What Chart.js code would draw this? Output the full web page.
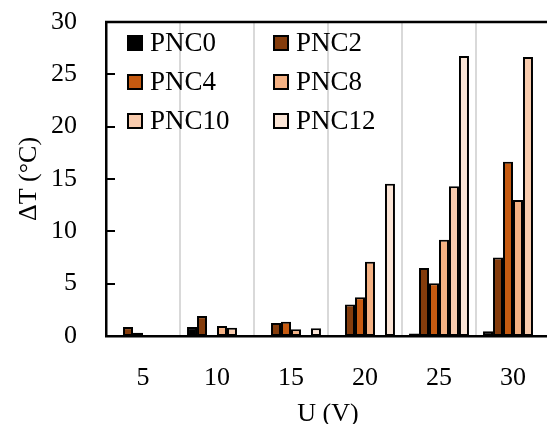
<!DOCTYPE html>
<html>
<head>
<meta charset="utf-8">
<script src="https://cdn.jsdelivr.net/npm/chart.js@4.4.0/dist/chart.umd.min.js"></script>
<style>
  html, body { margin: 0; padding: 0; background: #fff; overflow: hidden; }
  #wrap { width: 547px; height: 424px; overflow: hidden; position: relative; }
  canvas { display: block; }
</style>
</head>
<body>
<div id="wrap"><canvas id="c" width="550" height="424"></canvas></div>
<script>
const categories = ['5', '10', '15', '20', '25', '30'];
const seriesNames = ['PNC0', 'PNC2', 'PNC4', 'PNC8', 'PNC10', 'PNC12'];
// null = no bar drawn (value 0 / not measured)
const PNC0  = [0.05, 0.85, null, null,  0.25,  0.45];
const PNC2  = [0.85, 1.9,  1.25, 3.0,   6.5,   7.5];
const PNC4  = [0.3,  null, 1.35, 3.7,   5.05,  16.65];
const PNC8  = [null, 0.95, 0.65, 7.1,   9.2,   13.0];
const PNC10 = [null, 0.8,  null, null,  14.3,  26.65];
const PNC12 = [null, null, 0.75, 14.55, 26.75, null];
const yTicks = [0, 5, 10, 15, 20, 25, 30];
const colors = ['#000000', '#843c0c', '#c55a11', '#f4b183', '#f8cbad', '#fbe5d6'];
const seriesData = [PNC0, PNC2, PNC4, PNC8, PNC10, PNC12];

const FONT = "'Liberation Serif', 'Times New Roman', serif";

const datasets = seriesNames.map((name, i) => ({
  label: name,
  data: seriesData[i],
  backgroundColor: colors[i],
  borderColor: '#000000',
  borderWidth: 2,
  borderSkipped: false,
  barPercentage: 1,
  categoryPercentage: 0.81,
  skipNull: false
}));

const decoPlugin = {
  id: 'deco',
  afterDraw(chart) {
    const ctx = chart.ctx;
    const ca = chart.chartArea;
    const y = chart.scales.y;
    ctx.save();
    ctx.strokeStyle = '#000';
    ctx.lineWidth = 2;
    yTicks.forEach(v => {
      const py = Math.round(y.getPixelForValue(v));
      ctx.beginPath();
      ctx.moveTo(ca.left, py);
      ctx.lineTo(ca.left + 9, py);
      ctx.stroke();
    });
    ctx.lineWidth = 2.5;
    ctx.beginPath();
    ctx.moveTo(ca.left - 1, ca.top);
    ctx.lineTo(ca.right, ca.top);
    ctx.stroke();

    const order = [[0, 2, 4], [1, 3, 5]];
    const colX = [ca.left + 21, ca.left + 167];
    const rowY = [ca.top + 21, ca.top + 60, ca.top + 99];
    ctx.font = "27px " + FONT;
    ctx.textBaseline = 'middle';
    ctx.textAlign = 'left';
    order.forEach((col, ci) => {
      col.forEach((di, ri) => {
        const ds = chart.data.datasets[di];
        const bx = colX[ci], by = rowY[ri] - 8;
        ctx.fillStyle = ds.backgroundColor;
        ctx.fillRect(bx, by, 16, 16);
        ctx.lineWidth = 2;
        ctx.strokeStyle = '#000';
        ctx.strokeRect(bx + 1, by + 1, 14, 14);
        ctx.fillStyle = '#000';
        ctx.fillText(ds.label, bx + 23, rowY[ri] + 1);
      });
    });
    ctx.restore();
  }
};

new Chart(document.getElementById('c'), {
  type: 'bar',
  data: { labels: categories, datasets },
  options: {
    responsive: false,
    animation: false,
    devicePixelRatio: 1,
    layout: { padding: { top: 0, right: 0, left: 0, bottom: 0 } },
    plugins: { legend: { display: false }, tooltip: { enabled: false } },
    scales: {
      x: {
        offset: true,
        grid: { display: true, color: '#d9d9d9', lineWidth: 2, drawTicks: false, offset: true },
        border: { display: true, color: '#000', width: 2.5 },
        ticks: { color: '#000', font: { family: FONT, size: 26 }, padding: 27, maxRotation: 0 },
        title: { display: true, text: 'U (V)', color: '#000', font: { family: FONT, size: 26 }, padding: { top: 0, bottom: -6 } },
        afterFit(scale) { scale.height = 88; scale.paddingLeft = 0; scale.paddingRight = 0; }
      },
      y: {
        min: 0, max: 30,
        afterBuildTicks(scale) { scale.ticks = yTicks.map(v => ({ value: v })); },
        grid: { display: false, drawTicks: false },
        border: { display: true, color: '#000', width: 2.5 },
        ticks: { color: '#000', font: { family: FONT, size: 26 }, padding: 29 },
        title: { display: true, text: 'ΔT (°C)', color: '#000', font: { family: FONT, size: 26 }, padding: { top: 14, bottom: 0 } },
        afterFit(scale) { scale.width = 106; scale.paddingTop = 22; scale.paddingBottom = 0; }
      }
    }
  },
  plugins: [decoPlugin]
});
</script>
</body>
</html>
